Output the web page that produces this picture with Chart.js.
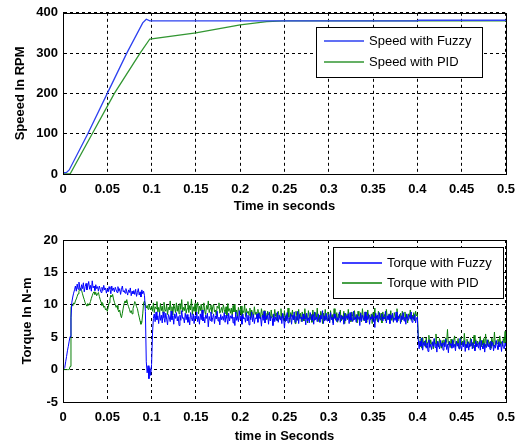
<!DOCTYPE html>
<html lang="en">
<head>
  <meta charset="UTF-8">
  <title>Speed and Torque Response</title>
  <script src="https://cdn.jsdelivr.net/npm/chart.js"></script>
  <style>
    body { margin: 0; background: #fff; }
    .plot { width: 523px; height: 224px; }
  </style>
</head>
<body>
  <div class="plot"><canvas id="speedChart" width="523" height="224"></canvas></div>
  <div class="plot"><canvas id="torqueChart" width="523" height="224"></canvas></div>

  <script>
  // Speed response (RPM) - breakpoints of each trace
  const speedFuzzyTime = [0, 0.004, 0.007, 0.028, 0.05, 0.072, 0.09, 0.094, 0.098, 0.4, 0.401, 0.5];
  const speedFuzzy     = [3, 4, 10, 100, 200, 300, 375, 384, 380, 380, 381.5, 381.5];
  const speedPidTime   = [0, 0.008, 0.033, 0.058, 0.087, 0.098, 0.15, 0.2, 0.23, 0.25, 0.5];
  const speedPid       = [0, 0, 100, 200, 300, 335, 350, 370, 378, 380, 380];

  // Torque response (N-m), one sample per ms from 0 to 0.5 s (10 samples per row)
  const torqueStep = 0.001;
  const torqueFuzzy = [
    0, 0, 0.3, 1.2, 2.0, 2.9, 3.6, 4.4, 5.1, 8.0,
    10.4, 11.2, 11.8, 12.3, 12.9, 12.1, 13.2, 12.4, 13.5, 12.6,
    12.2, 13.1, 12.5, 13.4, 12.0, 12.8, 13.3, 12.3, 12.9, 13.6,
    12.4, 13.0, 12.1, 13.7, 12.6, 12.9, 12.2, 13.1, 12.5, 12.8,
    12.1, 12.9, 12.4, 11.9, 12.7, 12.2, 13.0, 12.3, 12.6, 11.8,
    12.5, 12.0, 12.8, 12.4, 11.7, 12.9, 12.2, 12.6, 12.0, 12.7,
    12.3, 11.9, 12.8, 12.1, 12.5, 11.6, 12.4, 12.9, 12.0, 12.2,
    11.8, 12.5, 12.0, 11.5, 12.3, 11.9, 12.6, 11.4, 12.1, 11.7,
    12.2, 11.6, 12.4, 11.3, 11.9, 12.5, 11.5, 12.0, 11.2, 12.3,
    11.7, 12.1, 11.4, 9.0, 1.2, -0.5, 0.6, -1.4, 0.3, -0.9,
    0.8, 5.5, 7.9, 8.6, 7.4, 8.9, 7.7, 8.3, 7.1, 8.8,
    7.6, 8.4, 7.2, 8.9, 8.0, 7.3, 8.7, 7.8, 6.9, 8.5,
    8.1, 7.4, 9.0, 7.7, 8.3, 7.0, 8.6, 7.9, 8.8, 7.5,
    8.2, 6.8, 8.4, 7.6, 9.1, 7.9, 8.0, 7.2, 8.7, 7.7,
    8.5, 7.3, 8.1, 6.9, 8.8, 8.0, 7.5, 8.6, 7.1, 8.3,
    7.8, 8.9, 7.4, 8.2, 7.0, 8.6, 7.7, 9.2, 7.5, 8.1,
    7.2, 8.4, 7.9, 8.7, 6.6, 8.2, 7.6, 8.9, 7.4, 8.0,
    8.6, 7.1, 8.3, 7.8, 9.0, 7.5, 8.1, 6.9, 8.5, 7.7,
    8.2, 7.6, 8.8, 7.3, 8.4, 7.9, 7.0, 8.7, 7.5, 8.3,
    7.9, 8.5, 7.2, 8.1, 6.8, 8.9, 7.6, 8.2, 7.4, 9.1,
    7.7, 8.3, 7.0, 8.6, 7.8, 8.0, 7.3, 8.8, 7.5, 8.4,
    6.9, 8.2, 7.7, 8.9, 7.4, 8.5, 7.1, 8.0, 7.8, 8.6,
    7.3, 8.7, 7.9, 8.1, 6.7, 8.4, 7.6, 9.0, 7.2, 8.3,
    7.8, 8.5, 7.0, 8.8, 7.5, 8.2, 7.9, 6.8, 8.6, 7.4,
    8.1, 7.6, 8.9, 7.3, 8.4, 7.7, 8.2, 7.1, 8.7, 7.9,
    6.4, 8.3, 7.5, 8.8, 7.2, 8.0, 7.8, 8.6, 7.0, 8.4,
    7.7, 8.9, 7.3, 8.2, 7.6, 9.0, 7.1, 8.5, 7.9, 8.1,
    7.4, 8.6, 7.8, 8.3, 6.9, 8.7, 7.5, 8.0, 7.2, 8.8,
    8.2, 7.6, 8.5, 7.0, 8.9, 7.7, 8.1, 7.4, 8.6, 7.9,
    7.3, 8.4, 7.8, 9.1, 7.1, 8.3, 7.6, 8.7, 7.5, 8.0,
    8.5, 7.2, 8.8, 7.7, 8.1, 6.9, 8.6, 7.9, 8.3, 7.4,
    8.0, 7.6, 8.9, 7.3, 8.4, 7.8, 8.2, 7.0, 8.7, 7.5,
    8.3, 7.9, 8.6, 7.1, 8.8, 7.6, 8.0, 7.4, 9.0, 7.7,
    8.1, 7.3, 8.5, 7.8, 8.2, 6.8, 8.7, 7.5, 8.4, 7.9,
    7.6, 8.9, 7.2, 8.3, 7.7, 8.6, 7.0, 8.1, 7.8, 8.5,
    7.4, 8.2, 6.5, 8.7, 7.9, 8.4, 7.3, 8.8, 7.6, 8.0,
    8.6, 7.5, 8.1, 7.8, 9.0, 7.2, 8.3, 7.7, 8.5, 7.1,
    8.4, 7.9, 8.7, 7.4, 8.0, 7.6, 8.9, 7.3, 8.2, 7.8,
    8.5, 7.1, 8.3, 7.7, 8.8, 7.5, 8.1, 7.0, 8.6, 7.9,
    7.6, 8.4, 7.8, 8.9, 7.3, 8.2, 7.7, 8.5, 7.2, 8.0,
    8.1, 4.6, 3.2, 4.4, 3.6, 4.9, 3.0, 4.2, 3.7, 4.5,
    3.3, 4.1, 2.8, 4.6, 3.5, 3.9, 3.1, 4.3, 3.6, 4.8,
    3.4, 4.0, 2.7, 4.4, 3.8, 3.2, 4.5, 3.6, 4.1, 3.0,
    4.2, 3.5, 4.7, 3.1, 3.9, 2.6, 4.3, 3.7, 4.0, 3.3,
    4.6, 3.4, 3.9, 2.9, 4.4, 3.6, 4.1, 3.2, 4.8, 3.7,
    3.1, 4.2, 3.5, 4.5, 2.8, 3.9, 3.4, 4.3, 3.0, 4.0,
    3.6, 4.7, 3.2, 4.1, 3.8, 2.9, 4.4, 3.5, 4.0, 3.3,
    4.3, 3.0, 4.5, 3.7, 3.2, 4.1, 2.7, 3.9, 3.4, 4.6,
    3.5, 4.0, 3.1, 4.4, 3.6, 4.2, 2.9, 3.8, 3.3, 4.5,
    3.7, 3.1, 4.3, 3.5, 4.0, 2.8, 4.4, 3.6, 3.2, 4.1,
    3.6
  ];
  const torquePid = [
    0, 0, 0, 0, 0, 0, 0, 0, 0.5, 9.6,
    10.0, 9.8, 10.3, 10.1, 10.6, 10.9, 11.3, 11.7, 12.1, 12.4,
    12.6, 12.2, 11.7, 11.2, 10.8, 10.3, 10.0, 9.8, 10.2, 9.9,
    10.1, 10.5, 11.0, 11.4, 11.8, 12.0, 11.6, 11.9, 11.4, 11.7,
    11.9, 11.3, 10.8, 10.4, 9.9, 10.2, 9.6, 9.8, 9.2, 9.4,
    9.0, 9.6, 10.3, 10.9, 11.5, 11.2, 11.6, 10.9, 10.4, 10.0,
    9.6, 9.9, 9.3, 8.9, 9.2, 8.4, 8.0, 8.7, 9.5, 10.2,
    10.6, 10.3, 10.8, 10.1, 9.7, 9.3, 8.8, 9.1, 8.6, 9.4,
    9.9, 10.5, 10.2, 9.7, 9.4, 8.7, 8.1, 7.5, 7.0, 7.3,
    8.6, 10.3, 10.6, 10.0, 9.5, 9.9, 9.3, 10.1, 9.6, 9.2,
    9.8, 9.0, 10.3, 8.8, 9.7, 9.4, 10.5, 8.9, 9.6, 8.6,
    10.2, 9.1, 9.8, 8.7, 10.4, 9.3, 9.0, 10.0, 8.5, 9.6,
    9.2, 10.6, 8.9, 9.7, 8.4, 10.1, 9.5, 8.8, 10.3, 9.0,
    9.9, 8.6, 10.2, 9.3, 10.8, 8.9, 9.6, 9.1, 10.0, 8.7,
    9.4, 10.5, 8.8, 9.9, 9.2, 10.9, 8.5, 9.7, 9.0, 10.2,
    8.9, 9.6, 10.4, 8.6, 9.8, 9.1, 10.1, 8.7, 9.5, 10.3,
    9.0, 8.5, 9.9, 9.3, 10.6, 8.8, 9.4, 10.0, 8.6, 9.7,
    10.1, 8.9, 9.2, 8.4, 9.8, 9.5, 10.3, 8.7, 9.1, 9.6,
    8.8, 10.0, 9.3, 8.6, 9.7, 8.3, 10.2, 9.0, 9.4, 8.7,
    9.5, 8.4, 9.9, 8.9, 10.1, 8.6, 9.2, 8.1, 9.6, 9.0,
    8.6, 9.8, 8.3, 9.1, 8.8, 10.0, 8.2, 9.4, 8.7, 9.0,
    8.4, 9.5, 8.0, 9.2, 8.6, 8.1, 9.7, 8.5, 8.9, 7.9,
    9.3, 8.2, 8.8, 7.8, 9.4, 8.6, 8.0, 9.1, 8.3, 8.7,
    7.7, 9.0, 8.4, 8.9, 7.6, 9.2, 8.1, 8.5, 7.9, 9.3,
    8.2, 8.7, 7.5, 9.0, 8.3, 7.8, 9.4, 8.0, 8.6, 7.6,
    9.1, 7.4, 8.5, 7.9, 9.5, 8.1, 7.3, 8.8, 8.2, 9.2,
    7.7, 8.4, 7.1, 9.0, 8.3, 7.6, 9.3, 7.9, 8.7, 7.4,
    8.9, 8.0, 7.5, 9.4, 7.8, 8.6, 7.2, 9.1, 8.2, 7.7,
    8.5, 7.3, 9.2, 8.1, 7.6, 8.8, 7.9, 9.5, 7.4, 8.4,
    7.8, 9.0, 8.3, 7.1, 8.7, 7.5, 9.3, 8.0, 7.7, 8.9,
    8.2, 7.4, 9.1, 7.9, 8.5, 7.2, 9.4, 8.1, 7.6, 8.8,
    7.3, 8.6, 8.0, 9.2, 7.5, 8.3, 7.8, 9.0, 7.1, 8.7,
    8.4, 7.7, 9.3, 7.9, 8.1, 7.4, 8.9, 8.2, 7.6, 9.1,
    7.8, 8.5, 7.2, 9.0, 8.3, 7.6, 8.8, 7.4, 9.4, 8.0,
    7.5, 8.9, 8.1, 7.3, 9.2, 7.9, 8.4, 7.7, 8.6, 7.1,
    8.8, 8.0, 9.5, 7.6, 8.3, 7.4, 9.0, 8.2, 7.8, 8.7,
    7.2, 8.9, 7.9, 8.5, 7.5, 9.3, 8.1, 7.7, 8.6, 8.0,
    9.1, 7.6, 8.4, 7.3, 8.8, 8.2, 7.8, 9.4, 7.5, 8.3,
    8.0, 8.7, 7.4, 9.0, 8.1, 7.7, 8.9, 7.9, 8.5, 7.2,
    8.6, 8.1, 9.2, 7.6, 8.4, 7.9, 8.8, 7.5, 9.0, 8.3,
    8.5, 5.4, 4.2, 3.6, 4.8, 3.3, 5.0, 3.9, 4.4, 3.5,
    4.9, 3.8, 4.3, 5.3, 3.4, 4.6, 3.9, 4.1, 3.2, 4.7,
    4.0, 5.5, 3.7, 4.3, 3.5, 4.8, 4.1, 3.3, 4.5, 3.8,
    4.6, 3.6, 4.9, 4.2, 6.2, 3.8, 4.4, 3.4, 4.7, 4.0,
    3.7, 4.5, 5.2, 3.5, 4.3, 3.9, 4.8, 3.3, 4.1, 5.0,
    3.8, 4.4, 3.6, 5.6, 4.0, 3.4, 4.7, 3.9, 4.3, 3.5,
    4.9, 3.7, 4.2, 3.3, 5.3, 4.0, 4.6, 3.6, 4.4, 3.9,
    4.1, 5.1, 3.5, 4.5, 3.8, 4.8, 3.4, 5.5, 4.0, 3.7,
    4.6, 3.9, 4.3, 3.3, 4.9, 4.2, 3.6, 5.8, 3.8, 4.4,
    4.0, 4.7, 3.5, 5.2, 3.9, 4.3, 3.6, 4.8, 4.1, 5.9,
    4.2
  ];

  const FONT = "'Liberation Sans', Arial, sans-serif";

  function toPoints(times, values) {
    return values.map((v, i) => ({ x: times[i], y: v }));
  }
  function sampled(values, dt) {
    return values.map((v, i) => ({ x: +(i * dt).toFixed(4), y: v }));
  }

  // axes frame + boxed legend drawn inside the plot area
  const frameLegend = {
    id: 'frameLegend',
    afterDatasetsDraw(chart, args, opts) {
      const ctx = chart.ctx;
      const a = chart.chartArea;
      ctx.save();
      ctx.strokeStyle = '#000';
      ctx.lineWidth = 1;
      ctx.setLineDash([]);
      ctx.strokeRect(Math.round(a.left) + 0.5, Math.round(a.top) + 0.5,
        Math.round(a.right - a.left), Math.round(a.bottom - a.top));

      const L = opts.box;
      ctx.fillStyle = '#fff';
      ctx.fillRect(L.left, L.top, L.width, L.height);
      ctx.strokeRect(L.left + 0.5, L.top + 0.5, L.width, L.height);
      ctx.font = '13px ' + FONT;
      ctx.textBaseline = 'middle';
      chart.data.datasets.forEach((ds, i) => {
        const y = L.top + L.firstRow + i * L.rowGap;
        ctx.strokeStyle = ds.borderColor;
        ctx.lineWidth = 1.5;
        ctx.beginPath();
        ctx.moveTo(L.left + L.pad, y);
        ctx.lineTo(L.left + L.pad + L.lineLen, y);
        ctx.stroke();
        ctx.fillStyle = '#000';
        ctx.fillText(ds.label, L.left + L.pad + L.lineLen + 5, y);
      });
      ctx.restore();
    }
  };

  function makeOptions(cfg) {
    return {
      responsive: false,
      animation: false,
      layout: { padding: { top: cfg.top, right: 16, left: 0, bottom: 0 } },
      plugins: {
        legend: { display: false },
        tooltip: { enabled: false },
        frameLegend: { box: cfg.legend }
      },
      elements: { point: { radius: 0 }, line: { tension: 0 } },
      scales: {
        x: {
          type: 'linear',
          min: 0, max: 0.5,
          afterFit: s => { s.height = cfg.xHeight; },
          grid: { color: '#000', lineWidth: 1, drawTicks: false },
          border: { dash: [3, 3], color: '#000' },
          ticks: {
            stepSize: 0.05, autoSkip: false, maxRotation: 0, padding: 8,
            color: '#000', font: { family: FONT, size: 13, weight: 'bold' },
            callback: v => String(Math.round(v * 100) / 100)
          },
          title: {
            display: true, text: cfg.xTitle, color: '#000',
            font: { family: FONT, size: 13, weight: 'bold' },
            padding: { top: 0, bottom: cfg.xTitlePad }
          }
        },
        y: {
          min: cfg.yMin, max: cfg.yMax,
          afterFit: s => { s.width = 63; },
          grid: { color: '#000', lineWidth: 1, drawTicks: false },
          border: { dash: [3, 3], color: '#000' },
          ticks: {
            stepSize: cfg.yStep, padding: 5, color: '#000',
            font: { family: FONT, size: 13, weight: 'bold' }
          },
          title: {
            display: true, text: cfg.yTitle, color: '#000',
            font: { family: FONT, size: 13, weight: 'bold' },
            padding: { top: cfg.yTitlePad, bottom: 0 }
          }
        }
      }
    };
  }

  new Chart(document.getElementById('speedChart'), {
    type: 'line',
    data: {
      datasets: [
        { label: 'Speed with Fuzzy', data: toPoints(speedFuzzyTime, speedFuzzy),
          borderColor: 'rgb(45,65,240)', borderWidth: 1.3 },
        { label: 'Speed with PID', data: toPoints(speedPidTime, speedPid),
          borderColor: 'rgb(50,150,50)', borderWidth: 1.3 }
      ]
    },
    options: makeOptions({
      top: 12, xHeight: 50, xTitle: 'Time in seconds', xTitlePad: 10,
      yMin: 0, yMax: 400, yStep: 100, yTitle: 'Speeed In RPM', yTitlePad: 13,
      legend: { left: 316, top: 27, width: 166, height: 50, firstRow: 14, rowGap: 21, pad: 8, lineLen: 40 }
    }),
    plugins: [frameLegend]
  });

  new Chart(document.getElementById('torqueChart'), {
    type: 'line',
    data: {
      datasets: [
        { label: 'Torque with Fuzzy', data: sampled(torqueFuzzy, torqueStep),
          borderColor: '#0000ff', borderWidth: 1 },
        { label: 'Torque with PID', data: sampled(torquePid, torqueStep),
          borderColor: '#0a800a', borderWidth: 1 }
      ]
    },
    options: makeOptions({
      top: 16, xHeight: 46, xTitle: 'time in Seconds', xTitlePad: 4,
      yMin: -5, yMax: 20, yStep: 5, yTitle: 'Torque In N-m', yTitlePad: 20,
      legend: { left: 333, top: 23, width: 170, height: 51, firstRow: 16, rowGap: 20, pad: 9, lineLen: 40 }
    }),
    plugins: [frameLegend]
  });
  </script>
</body>
</html>
